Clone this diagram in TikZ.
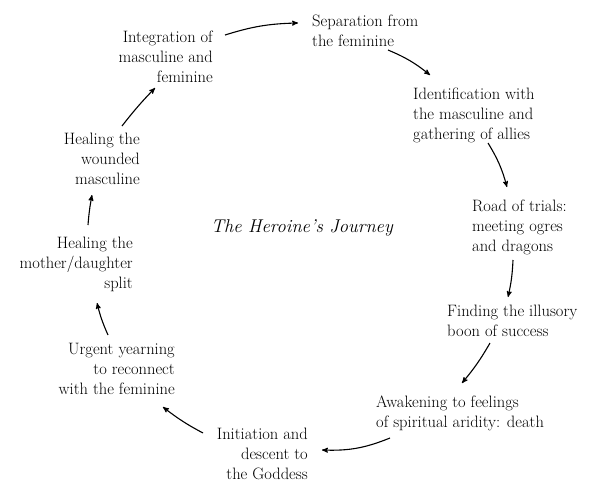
\documentclass[tikz,border=0pt]{standalone}
\usepackage{fontspec}
\usepackage{tikz}
\usetikzlibrary{arrows,calc}
\tikzstyle{stage}=[inner sep=0pt,font=\fontsize{16.5}{20}\selectfont]
\tikzstyle{leftstage}=[stage,align=left,anchor=north west]
\tikzstyle{rightstage}=[stage,align=right,anchor=north east]
\tikzstyle{flow}=[->,line width=1.1pt]

\begin{document}
\begin{tikzpicture}[x=1pt,y=1pt,>=stealth']
\useasboundingbox[fill=white] (0,0) rectangle (593,-482);
\node [rightstage] (integ) at (213,-31) {Integration of\\masculine and\\feminine};
\node [leftstage] (sep) at (312,-15) {Separation from\\the feminine};
\node [leftstage] (ident) at (413,-88) {Identification with\\the masculine and\\gathering of allies};
\node [leftstage] (road) at (472,-200) {Road of trials:\\meeting ogres\\and dragons};
\node [leftstage] (find) at (447,-305) {Finding the illusory\\boon of success};
\node [leftstage] (awak) at (376,-396) {Awakening to feelings\\of spiritual aridity: death};
\node [rightstage] (init) at (308,-428) {Initiation and\\descent to\\the Goddess};
\node [rightstage] (urg) at (175,-343) {Urgent yearning\\to reconnect\\with the feminine};
\node [rightstage] (heal2) at (133,-237) {Healing the\\mother/daughter\\split};
\node [rightstage] (heal1) at (140,-133) {Healing the\\wounded\\masculine};
\node [anchor=base] (title) at (302,-232) {\fontsize{18.5}{22}\selectfont\itshape The Heroine's Journey};

\draw [flow] ($(integ.north east)+(12,-4)$) to[bend left=8] ($(sep.north west)+(-14,-8)$);
\draw [flow] ($(sep.north west)+(76,-35)$) to[bend left=8] ($(ident.north west)+(17,13)$);
\draw [flow] ($(ident.north west)+(75,-55)$) to[bend left=8] ($(road.north west)+(35,13)$);
\draw [flow] ($(road.north west)+(41,-60)$) to[bend left=5] ($(find.north west)+(61,8)$);
\draw [flow] ($(find.north west)+(43,-38)$) to[bend left=5] ($(awak.north west)+(86,13)$);
\draw [flow] ($(awak.north west)+(14,-42)$) to[bend left=12] ($(init.north east)+(14,-22)$);
\draw [flow] ($(init.north east)+(-105,-5)$) to[bend left=5] ($(urg.north east)+(-12,-64)$);
\draw [flow] ($(urg.north east)+(-67,8)$) to[bend left=5] ($(heal2.north east)+(-36,-66)$);
\draw [flow] ($(heal2.north east)+(-45,12)$) to[bend left=3] ($(heal1.north east)+(-48,-62)$);
\draw [flow] ($(heal1.north east)+(-18,7)$) to[bend left=3] ($(integ.north east)+(-58,-57)$);
\end{tikzpicture}
\end{document}
